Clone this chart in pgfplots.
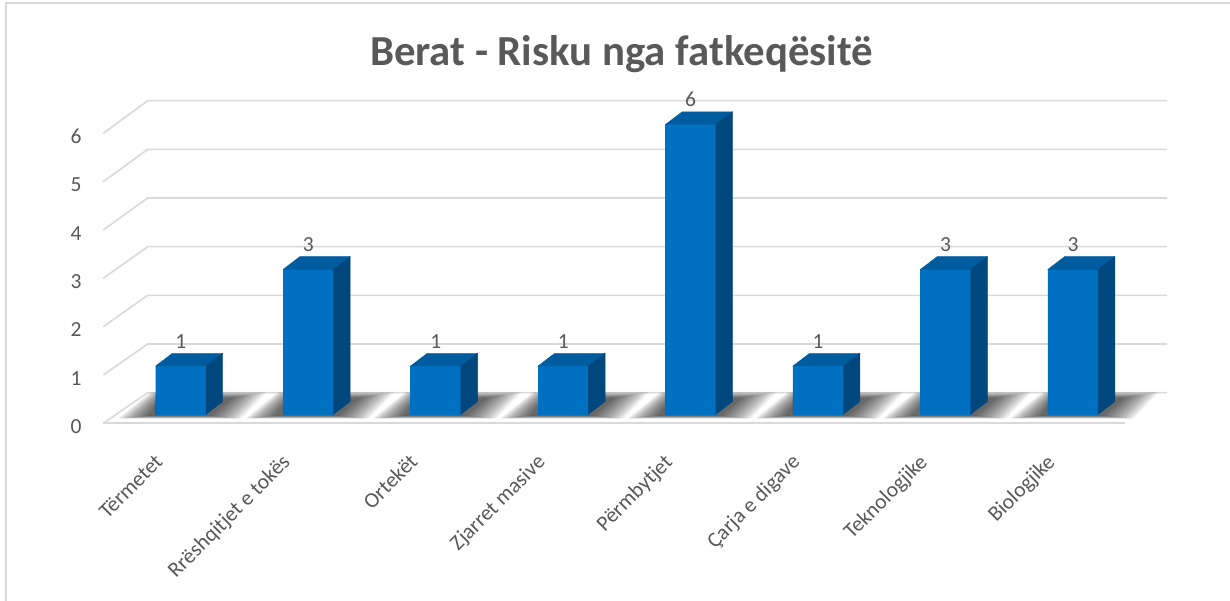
\documentclass[border=0pt]{standalone}
\usepackage{pgfplots}
\pgfplotsset{compat=1.18}
\usepackage{pgfplotstable}
\usepackage{fontspec}
\setmainfont{Carlito}
\definecolor{barfront}{HTML}{0070C0}
\definecolor{bartop}{HTML}{005B9F}
\definecolor{barside}{HTML}{00477E}
\definecolor{txt}{HTML}{595959}
\definecolor{grd}{HTML}{D9D9D9}
\pgfplotstableread{
x y
0 1
1 3
2 1
3 1
4 6
5 1
6 3
7 3
}\datatable
\begin{document}
\begin{tikzpicture}[x=1pt,y=1pt]
\path[use as bounding box] (0,0) rectangle (1230,601);
\fill[white] (0,0) rectangle (1230,601);
% border
\draw[grd, line width=2pt] (6,0) -- (6,598) -- (1230,598);
% grid (back wall + left side)
\foreach \v in {0,...,6}{
  \draw[grd, line width=1.6pt] (103.3,{601-423.3+48.33*\v}) -- (147.7,{601-392.7+48.67*\v}) -- (1167,{601-392.7+48.67*\v});
}
% floor front edge
\draw[grd, line width=2.2pt] (103.3,177.7) -- (1125,177.7);
% title
\node[anchor=base, text=txt, font=\fontsize{42.8}{50}\selectfont\bfseries, inner sep=0pt] at (621.5,535) {Berat - Risku nga fatkeqësitë};
\begin{axis}[
  at={(103.3pt,186.7pt)}, anchor=south west,
  x=127.45pt, y=48.3pt,
  xmin=-0.6085, xmax=7.7375, ymin=0, ymax=6.5,
  clip=false,
  axis line style={draw=none},
  major tick length=0pt,
  tick style={draw=none},
  ytick={0,...,6},
  xtick={0,...,7},
  xticklabels={Tërmetet, Rrëshqitjet e tokës, Ortekët, Zjarret masive, Përmbytjet, Çarja e digave, Teknologjike, Biologjike},
  ticklabel style={font=\fontsize{21.5}{25}\selectfont, text=txt},
  /pgf/number format/assume math mode=true,
  yticklabel style={anchor=center, inner sep=0pt, xshift=-27.3pt, yshift=-12.3pt},
  xticklabel style={xshift=-17pt, yshift=-49pt, rotate=45, anchor=base east, inner sep=0pt},
]
% shadows
\addplot[only marks, scatter, mark=*, mark options={opacity=0},
  visualization depends on={rawy \as \ry},
  scatter/@pre marker code/.code={%
    \pgfmathsetmacro\hh{-\ry*48.3}%
    \foreach \k in {0,...,15}{%
      \pgfmathsetmacro\t{\k/15}%
      \pgfmathsetmacro\ax{-62+30*\t}%
      \pgfmathsetmacro\bx{60-30*\t}%
      \pgfmathsetmacro\cx{85-35*\t}%
      \pgfmathsetmacro\dx{-30+12*\t}%
      \pgfmathsetmacro\ly{\hh-4+3*\t}%
      \pgfmathsetmacro\uy{\hh+22-6*\t}%
      \fill[black, opacity=0.05, fill opacity=0.05] (\ax pt,\ly pt) -- (\bx pt,\ly pt) -- (\cx pt,\uy pt) -- (\dx pt,\uy pt) -- cycle;
    }%
  },
  scatter/@post marker code/.code={}
] table[x=x,y=y]{\datatable};
% front faces
\addplot[ybar, bar width=50.3pt, bar shift=0pt, fill=barfront, draw=none,
  nodes near coords,
  nodes near coords style={anchor=base, yshift=17.7pt, inner sep=0pt, font=\fontsize{21.5}{25}\selectfont, text=txt}
] table[x=x,y=y]{\datatable};
% front, top and side faces
\addplot[only marks, scatter, mark=*, mark options={opacity=0},
  visualization depends on={rawy \as \ry},
  scatter/@pre marker code/.code={%
    \pgfmathsetmacro\hh{-\ry*48.3}%
    \fill[barfront, opacity=1, fill opacity=1] (-25.15pt,0pt) rectangle (25.15pt,\hh pt);
    \fill[bartop, opacity=1, fill opacity=1] (-25.15pt,0pt) -- (25.15pt,0pt) -- (41.85pt,12.7pt) -- (-8.45pt,12.7pt) -- cycle;
    \fill[barside, opacity=1, fill opacity=1] (25.15pt,0pt) -- (41.85pt,12.7pt) -- (41.85pt,\hh pt+12.7pt) -- (25.15pt,\hh pt) -- cycle;
  },
  scatter/@post marker code/.code={}
] table[x=x,y=y]{\datatable};
\end{axis}
\end{tikzpicture}
\end{document}
